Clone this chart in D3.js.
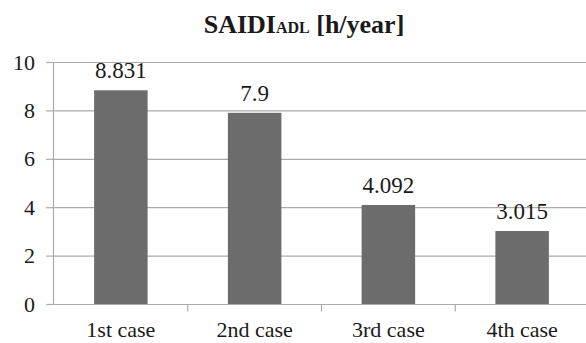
<!DOCTYPE html>
<html>
<head>
<meta charset="utf-8">
<script src="https://cdn.jsdelivr.net/npm/d3@7"></script>
<style>
  html, body { margin: 0; padding: 0; background: #fff; }
  svg { display: block; }
</style>
</head>
<body>
<script>
// SAIDI for the adaptive distribution line, four study cases
const categories = ["1st case", "2nd case", "3rd case", "4th case"];
const values = [8.831, 7.9, 4.092, 3.015];
const valueLabels = ["8.831", "7.9", "4.092", "3.015"];
const yTicks = [0, 2, 4, 6, 8, 10];

const W = 586, H = 343;
const margin = { left: 53, right: -2, top: 62, bottom: 39 };
const serif = '"Liberation Serif"';
const ink = "#1a1a1a";

const svg = d3.select("body").append("svg").attr("width", W).attr("height", H);

const x = d3.scaleBand()
  .domain(categories)
  .range([margin.left, W - margin.right])
  .paddingInner(0.6)
  .paddingOuter(0.3);

const y = d3.scaleLinear()
  .domain([0, 10])
  .range([H - margin.bottom, margin.top]);

const gridColor = "#ababab";

// horizontal gridlines
svg.append("g")
  .selectAll("line")
  .data(yTicks.filter(d => d > 0))
  .join("line")
  .attr("x1", margin.left)
  .attr("x2", W)
  .attr("y1", d => y(d) + 0.5)
  .attr("y2", d => y(d) + 0.5)
  .attr("stroke", gridColor)
  .attr("stroke-width", 1.2);

// y axis
const yAxis = svg.append("g")
  .attr("transform", `translate(${margin.left},0)`)
  .call(d3.axisLeft(y).tickValues(yTicks).tickSize(7).tickPadding(11).tickFormat(d3.format("d")));
yAxis.select(".domain").attr("stroke", gridColor).attr("stroke-width", 1.2);
yAxis.selectAll(".tick line").attr("stroke", gridColor).attr("stroke-width", 1.2);
yAxis.selectAll(".tick text")
  .style("font-family", serif)
  .style("font-size", "22px")
  .style("fill", ink);

// bars
svg.append("g")
  .selectAll("rect")
  .data(values)
  .join("rect")
  .attr("x", (d, i) => x(categories[i]) + 1)
  .attr("width", x.bandwidth())
  .attr("y", d => y(d))
  .attr("height", d => y(0) - y(d))
  .attr("fill", "#6c6c6d");

// value labels
svg.append("g")
  .selectAll("text")
  .data(values)
  .join("text")
  .attr("x", (d, i) => x(categories[i]) + 1 + x.bandwidth() / 2)
  .attr("y", d => y(d) - 12)
  .attr("text-anchor", "middle")
  .style("font-family", serif)
  .style("font-size", "23px")
  .style("fill", ink)
  .text((d, i) => valueLabels[i]);

// x axis with ticks between categories
const x0 = y(0) + 0.5;
svg.append("line")
  .attr("x1", margin.left).attr("x2", W)
  .attr("y1", x0).attr("y2", x0)
  .attr("stroke", gridColor).attr("stroke-width", 1.2);

const step = x.step();
const boundaries = categories.slice(1).map(c => x(c) - x.paddingInner() * step / 2 + 1);
svg.append("g")
  .selectAll("line")
  .data(boundaries)
  .join("line")
  .attr("x1", d => d).attr("x2", d => d)
  .attr("y1", x0).attr("y2", x0 + 7)
  .attr("stroke", gridColor).attr("stroke-width", 1.2);

svg.append("g")
  .selectAll("text")
  .data(categories)
  .join("text")
  .attr("x", d => x(d) + 1 + x.bandwidth() / 2)
  .attr("y", 337)
  .attr("text-anchor", "middle")
  .style("font-family", serif)
  .style("font-size", "22px")
  .style("fill", ink)
  .text(d => d);

// title with reduced-size subscript
const title = svg.append("text")
  .attr("x", 304)
  .attr("y", 33)
  .attr("text-anchor", "middle")
  .style("font-family", serif)
  .style("font-weight", "bold")
  .style("font-size", "26px")
  .style("fill", ink);
title.append("tspan").text("SAIDI");
title.append("tspan").style("font-size", "16px").text("ADL");
title.append("tspan").text(" [h/year]");
</script>
</body>
</html>
